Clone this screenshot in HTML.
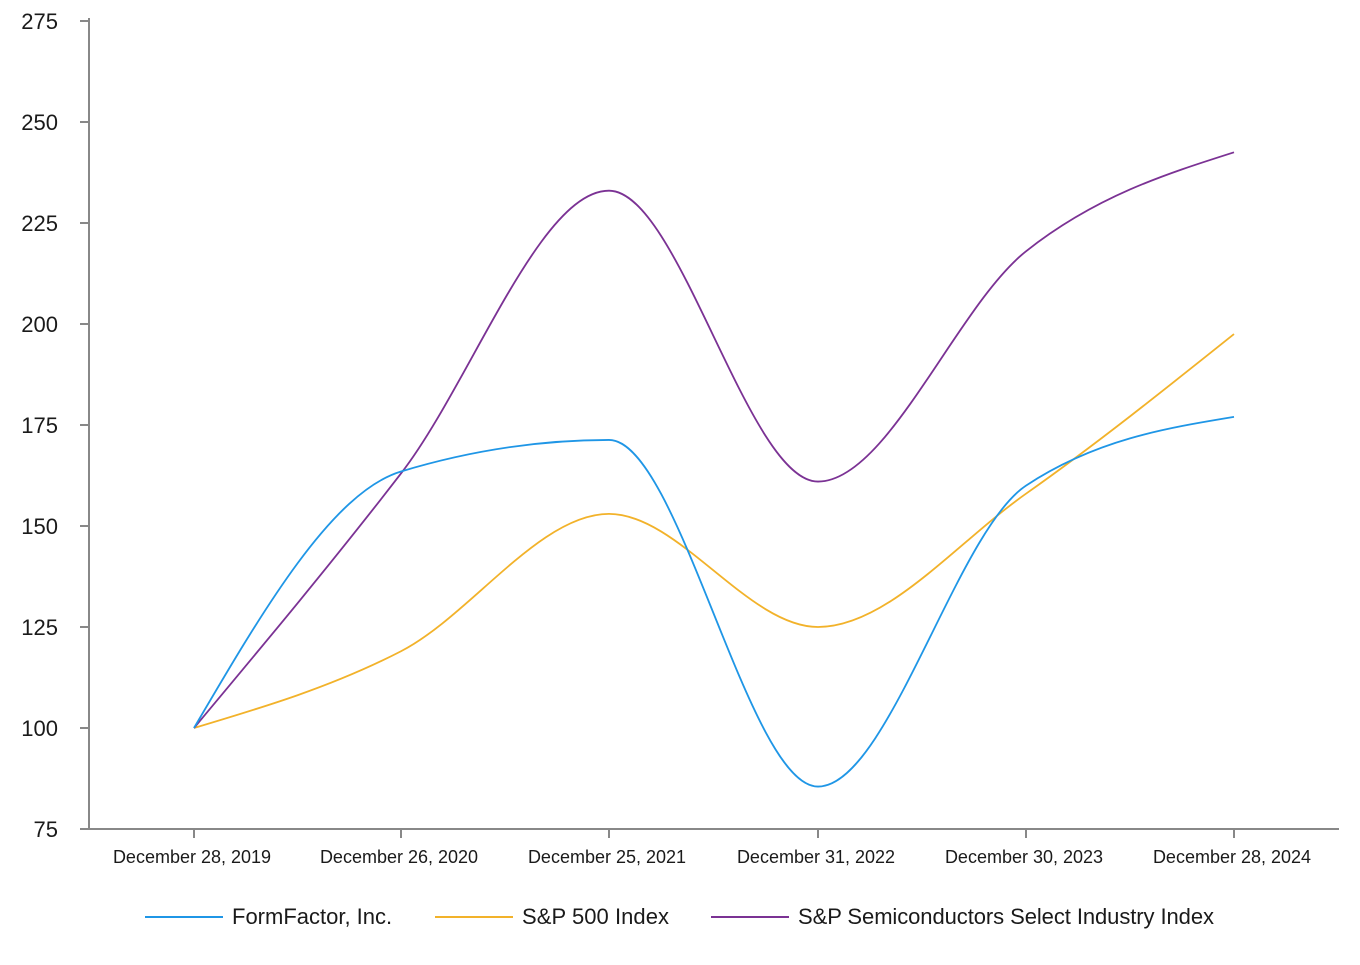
<!DOCTYPE html>
<html><head><meta charset="utf-8"><style>
body{margin:0;background:#fff;}
svg text{font-family:"Liberation Sans",Arial,sans-serif;fill:#1a1a1a;}
</style></head><body>
<svg id="s" width="1360" height="960" xmlns="http://www.w3.org/2000/svg">
<g stroke="#888" stroke-width="2" fill="none">
<line x1="89" y1="18" x2="89" y2="829"/>
<line x1="88" y1="829" x2="1339" y2="829"/>
</g>
<g id="ticks" stroke="#888" stroke-width="2"></g>
<g id="labels"></g>
<g id="lines" fill="none" stroke-width="1.8"></g>
<g font-size="22">
<line x1="145" y1="917" x2="223" y2="917" stroke="#1f96e6" stroke-width="2"/>
<text x="232" y="924">FormFactor, Inc.</text>
<line x1="435" y1="917" x2="513" y2="917" stroke="#f2b22a" stroke-width="2"/>
<text x="522" y="924" textLength="147">S&amp;P 500 Index</text>
<line x1="711" y1="917" x2="789" y2="917" stroke="#7b3294" stroke-width="2"/>
<text x="798" y="924" textLength="416">S&amp;P Semiconductors Select Industry Index</text>
</g>
</svg>
<script>
var NS="http://www.w3.org/2000/svg";
function el(n,a,p,t){var e=document.createElementNS(NS,n);for(var k in a)e.setAttribute(k,a[k]);if(t)e.textContent=t;document.getElementById(p).appendChild(e);}
function Y(v){return 829-(v-75)*4.04;}
var xs=[194,401,609,818,1026,1234];
var dl=["December 28, 2019","December 26, 2020","December 25, 2021","December 31, 2022","December 30, 2023","December 28, 2024"];
for(var v=75;v<=275;v+=25){var y=Y(v);el("line",{x1:80,y1:y,x2:89,y2:y},"ticks");el("text",{x:58,y:y+8,"text-anchor":"end","font-size":22},"labels",""+v);}
xs.forEach(function(x,i){el("line",{x1:x,y1:829,x2:x,y2:838},"ticks");el("text",{x:x-2,y:863,"text-anchor":"middle","font-size":18},"labels",dl[i]);});
function mono(px,py){var n=px.length,d=[],m=[];for(var i=0;i<n-1;i++)d.push((py[i+1]-py[i])/(px[i+1]-px[i]));
for(i=1;i<n-1;i++){var h0=px[i]-px[i-1],h1=px[i+1]-px[i];var s0=d[i-1],s1=d[i];var p=(s0*h1+s1*h0)/(h0+h1);m[i]=(s0*s1<=0)?0:(Math.sign(s0)+Math.sign(s1))*Math.min(Math.abs(s0),Math.abs(s1),0.5*Math.abs(p));}
m[0]=(3*d[0]-m[1])/2;m[n-1]=(3*d[n-2]-m[n-2])/2;
var s="M"+px[0]+","+py[0];for(i=0;i<n-1;i++){var dx=(px[i+1]-px[i])/3;s+="C"+(px[i]+dx)+","+(py[i]+m[i]*dx)+","+(px[i+1]-dx)+","+(py[i+1]-m[i+1]*dx)+","+px[i+1]+","+py[i+1];}return s;}
var series=[["#f2b22a",[100,119,153,125,158,197.5]],["#7b3294",[100,163,233,161,218,242.5]],["#1f96e6",[100,163.5,171.3,85.5,160,177]]];
series.forEach(function(sr){el("path",{d:mono(xs,sr[1].map(Y)),stroke:sr[0]},"lines");});
</script>
</body></html>
